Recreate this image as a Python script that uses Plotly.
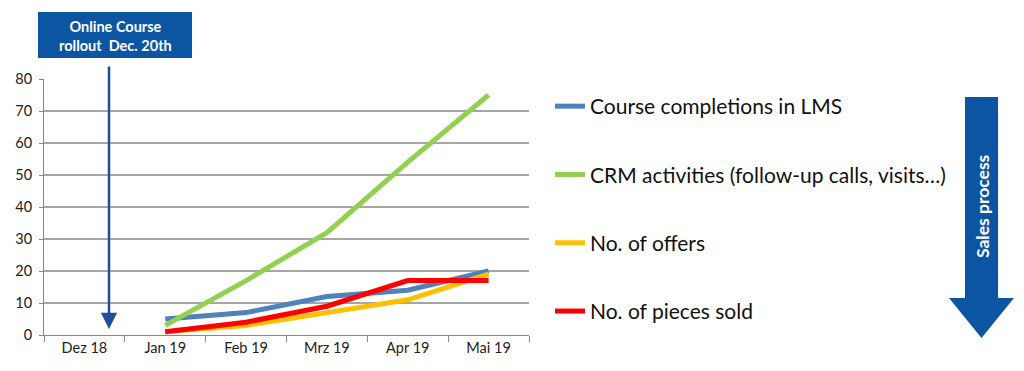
import plotly.graph_objects as go

months = ["Dez 18", "Jan 19", "Feb 19", "Mrz 19", "Apr 19", "Mai 19"]
series_names = ["Course completions in LMS", "CRM activities (follow-up calls, visits…)",
                "No. of offers", "No. of pieces sold"]
course_completions = [None, 5, 7, 12, 14, 20]
crm_activities = [None, 3, 17, 32, 54, 75]
offers = [None, 1, 3, 7, 11, 19]
pieces_sold = [None, 1, 4, 9, 17, 17]
y_ticks = [0, 10, 20, 30, 40, 50, 60, 70, 80]

colors = ["#4F81BD", "#92D050", "#FFC000", "#FF0000"]

W, H = 1024, 371
L, R, T, B = 44, 529, 79, 335

def px(x):
    return (x - L) / (R - L)

def py(y):
    return (B - y) / (B - T)

fig = go.Figure()
all_series = [course_completions, crm_activities, offers, pieces_sold]
for i, (name, vals) in enumerate(zip(series_names, all_series)):
    fig.add_trace(go.Scatter(
        x=months, y=vals, name=name, mode="lines",
        line=dict(color=colors[i], width=5),
        legendgroup=f"g{i}", connectgaps=False,
    ))

font = "Lato, 'Noto Sans', sans-serif"

fig.update_layout(
    width=W, height=H,
    margin=dict(l=L, r=W - R, t=T, b=H - B, pad=0),
    paper_bgcolor="white", plot_bgcolor="white",
    font=dict(family=font, color="#222222"),
    showlegend=True,
    legend=dict(
        x=px(550), y=py(86), xanchor="left", yanchor="top",
        font=dict(size=21, family=font, color="#111111"),
        tracegroupgap=38, itemwidth=30,
        bgcolor="rgba(0,0,0,0)",
    ),
    xaxis=dict(
        type="category", range=[-0.5, 5.5],
        showgrid=False, showline=True, linecolor="#888888", linewidth=1,
        ticks="outside", ticklen=6, tickcolor="#888888", tickson="boundaries",
        tickfont=dict(size=14.5, family=font, color="#222222"),
        fixedrange=True,
    ),
    yaxis=dict(
        range=[0, 80], tickvals=y_ticks,
        showgrid=True, gridcolor="#A6A6A6", gridwidth=1.5,
        showline=True, linecolor="#888888", linewidth=1,
        ticks="outside", ticklen=4, tickcolor="#888888",
        tickfont=dict(size=14.5, family=font, color="#222222"),
        zeroline=False, ticklabelstandoff=4,
        fixedrange=True,
    ),
)

# Rollout box
fig.add_shape(type="rect", xref="paper", yref="paper",
              x0=px(38), x1=px(192), y0=py(58), y1=py(12),
              fillcolor="#0B55A3", line=dict(width=0), layer="above")
fig.add_annotation(xref="paper", yref="paper", x=px(115), y=py(36),
                   xanchor="center", yanchor="middle",
                   text="<b>Online Course<br>rollout  Dec. 20th</b>",
                   showarrow=False, font=dict(size=14.5, color="white", family=font),
                   align="center")

# Vertical rollout arrow
fig.add_annotation(xref="paper", yref="paper", x=px(109), y=py(329),
                   ax=0, ay=-(329 - 65), axref="pixel", ayref="pixel",
                   text="", showarrow=True, arrowhead=2, arrowsize=1.3,
                   arrowwidth=2.5, arrowcolor="#1F4E96")

# Sales process arrow
sx0, sx1 = 965, 998
hx0, hx1 = 949, 1014
top, neck, tip = 97, 298, 338
path = (f"M {px(sx0)} {py(top)} L {px(sx1)} {py(top)} L {px(sx1)} {py(neck)} "
        f"L {px(hx1)} {py(neck)} L {px((hx0 + hx1) / 2)} {py(tip)} "
        f"L {px(hx0)} {py(neck)} L {px(sx0)} {py(neck)} Z")
fig.add_shape(type="path", xref="paper", yref="paper", path=path,
              fillcolor="#0B55A3", line=dict(width=0), layer="above")
fig.add_annotation(xref="paper", yref="paper", x=px(982), y=py(206),
                   xanchor="center", yanchor="middle",
                   text="<b>Sales process</b>", textangle=-90, showarrow=False,
                   font=dict(size=17.5, color="white", family=font))

fig.write_html("out.html", config={"displayModeBar": False},
               post_script="document.body.style.margin='0px';document.body.style.padding='0px';")
